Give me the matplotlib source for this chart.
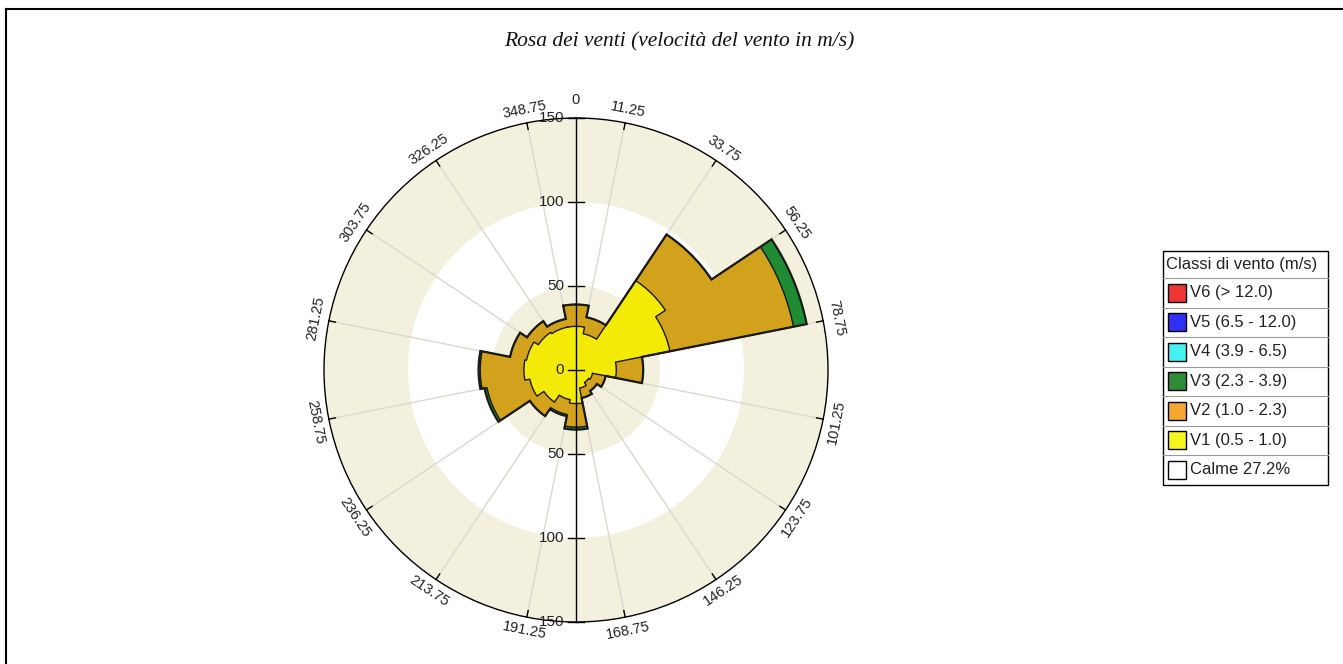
import numpy as np
import matplotlib
matplotlib.use("Agg")
import matplotlib.pyplot as plt
from matplotlib.patches import Rectangle
from matplotlib.lines import Line2D

# wind rose data (16 sectors, centre of sector in degrees from north)
directions = [0, 22.5, 45, 67.5, 90, 112.5, 135, 157.5,
              180, 202.5, 225, 247.5, 270, 292.5, 315, 337.5]
v1 = [26, 22, 64, 57, 24, 10, 9, 11, 20, 18, 23, 28, 31, 30, 27, 26]
v2 = [13, 10, 33, 75, 16, 8, 6, 6, 14, 9, 10, 26, 26, 10, 8, 5]
v3 = [0, 0, 0, 8, 0, 0, 0, 0, 1.5, 1, 0, 1.5, 1, 0, 0, 0]

radial_ticks = [150, 100, 50, 0, -50, -100, -150]
angle_labels = [11.25 + 22.5 * i for i in range(16)]

legend_labels = ["V6 (> 12.0)", "V5 (6.5 - 12.0)", "V4 (3.9 - 6.5)",
                 "V3 (2.3 - 3.9)", "V2 (1.0 - 2.3)", "V1 (0.5 - 1.0)",
                 "Calme 27.2%"]
legend_colors = ["#f03535", "#3030f0", "#45f0f0", "#2e8b36",
                 "#f5a830", "#f5f520", "#ffffff"]

W, H = 1343, 664
beige = "#f3f1de"


def fx(x):
    return x / W


def fy(y):
    return 1 - y / H


def outline(ax, theta, width, vals, lw):
    # stepped outline round the stacked sectors
    th, rr = [], []
    for t, v in zip(theta, vals):
        ts = np.linspace(t - width / 2, t + width / 2, 20)
        th.extend(ts)
        rr.extend([v] * len(ts))
    th.append(th[0])
    rr.append(rr[0])
    ax.plot(th, rr, color="#1a1a1a", lw=lw, zorder=3, solid_joinstyle="miter")


fig = plt.figure(figsize=(W / 100, H / 100), dpi=100)
fig.patch.set_facecolor("white")

# polar area: centre (576, 370) px, radius 252 px
cx, cy, R = 576, 370, 252
rect = [fx(cx - R), fy(cy + R), 2 * R / W, 2 * R / H]

ax = fig.add_axes(rect, projection="polar")
ax.set_theta_zero_location("N")
ax.set_theta_direction(-1)
ax.set_ylim(0, 150)
ax.set_facecolor("white")
ax.set_xticks([])
ax.set_yticks([])
ax.grid(False)
ax.spines["polar"].set_color("black")
ax.spines["polar"].set_linewidth(1)

# background bands
full = 2 * np.pi
ax.bar(0, 50, width=full, bottom=0, color=beige, linewidth=0, zorder=0)
ax.bar(0, 50, width=full, bottom=100, color=beige, linewidth=0, zorder=0)

# radial grid lines on sector borders
for a in angle_labels:
    t = np.deg2rad(a)
    ax.plot([t, t], [0, 150], color="#d8d8d2", lw=1, zorder=1)

theta = np.deg2rad(directions)
width = 2 * np.pi / 16
c1 = np.array(v1, dtype=float)
c2 = c1 + np.array(v2)
c3 = c2 + np.array(v3)
ax.bar(theta, v1, width=width, bottom=0, color="#f3eb05",
       edgecolor="#f3eb05", linewidth=0.5, zorder=2)
ax.bar(theta, v2, width=width, bottom=c1, color="#d3a21c",
       edgecolor="#d3a21c", linewidth=0.5, zorder=2)
ax.bar(theta, v3, width=width, bottom=c2, color="#1f8c34",
       edgecolor="#1f8c34", linewidth=0.5, zorder=2)
outline(ax, theta, width, c1, 1.0)
outline(ax, theta, width, c2, 1.0)
outline(ax, theta, width, c3, 1.6)

# overlay for the vertical axis and labels
ax2 = fig.add_axes(rect, facecolor="none")
ax2.set_xlim(-150, 150)
ax2.set_ylim(-150, 150)
ax2.axis("off")

ax2.plot([0, 0], [-150, 150], color="black", lw=1, clip_on=False)
for v in radial_ticks:
    ax2.plot([-5, 5], [v, v], color="black", lw=1, clip_on=False)
    ax2.text(-7, v, str(abs(v)), ha="right", va="center", fontsize=11,
             family="Liberation Sans", color="#222222")

for a in angle_labels:
    t = np.deg2rad(a)
    ax2.plot([146 * np.sin(t), 150 * np.sin(t)],
             [146 * np.cos(t), 150 * np.cos(t)], color="black", lw=1,
             clip_on=False)
    if 90 < a < 270:
        rot = 180 - a
    else:
        rot = -a
    ax2.text(158 * np.sin(t), 158 * np.cos(t), f"{a:.2f}", rotation=rot,
             rotation_mode="anchor", ha="center", va="center", fontsize=10.5,
             family="Liberation Sans", color="#222222")
ax2.text(0, 161, "0", ha="center", va="center", fontsize=10.5,
         family="Liberation Sans", color="#222222")

# title
fig.text(fx(679), fy(42), "Rosa dei venti (velocità del vento in m/s)",
         ha="center", va="center", fontsize=15.5, style="italic",
         family="Liberation Serif", color="#111111")

# legend box
lx0, lx1, ly0 = 1163, 1328, 251
head_h, row_h = 27, 29.5
ly1 = ly0 + head_h + row_h * len(legend_labels)
fig.add_artist(Rectangle((fx(lx0), fy(ly1)), fx(lx1 - lx0), (ly1 - ly0) / H,
                         transform=fig.transFigure, facecolor="white",
                         edgecolor="black", lw=1))
fig.text(fx(lx0 + 3), fy(ly0 + head_h / 2), "Classi di vento (m/s)",
         ha="left", va="center", fontsize=12, family="Liberation Sans",
         color="#222222")
for i, (lab, col) in enumerate(zip(legend_labels, legend_colors)):
    top = ly0 + head_h + i * row_h
    fig.add_artist(Line2D([fx(lx0), fx(lx1)], [fy(top), fy(top)],
                          transform=fig.transFigure, color="#999999", lw=0.8))
    mid = top + row_h / 2
    fig.add_artist(Rectangle((fx(lx0 + 5), fy(mid + 9)), fx(18), 18 / H,
                             transform=fig.transFigure, facecolor=col,
                             edgecolor="black", lw=1))
    fig.text(fx(lx0 + 27), fy(mid), lab, ha="left", va="center",
             fontsize=12, family="Liberation Sans", color="#222222")

# outer frame
fig.add_artist(Line2D([fx(6), fx(6)], [fy(9), 0], transform=fig.transFigure,
                      color="black", lw=1.5))
fig.add_artist(Line2D([fx(6), 1], [fy(9), fy(9)], transform=fig.transFigure,
                      color="black", lw=1.5))

fig.savefig("out.png", dpi=100)
